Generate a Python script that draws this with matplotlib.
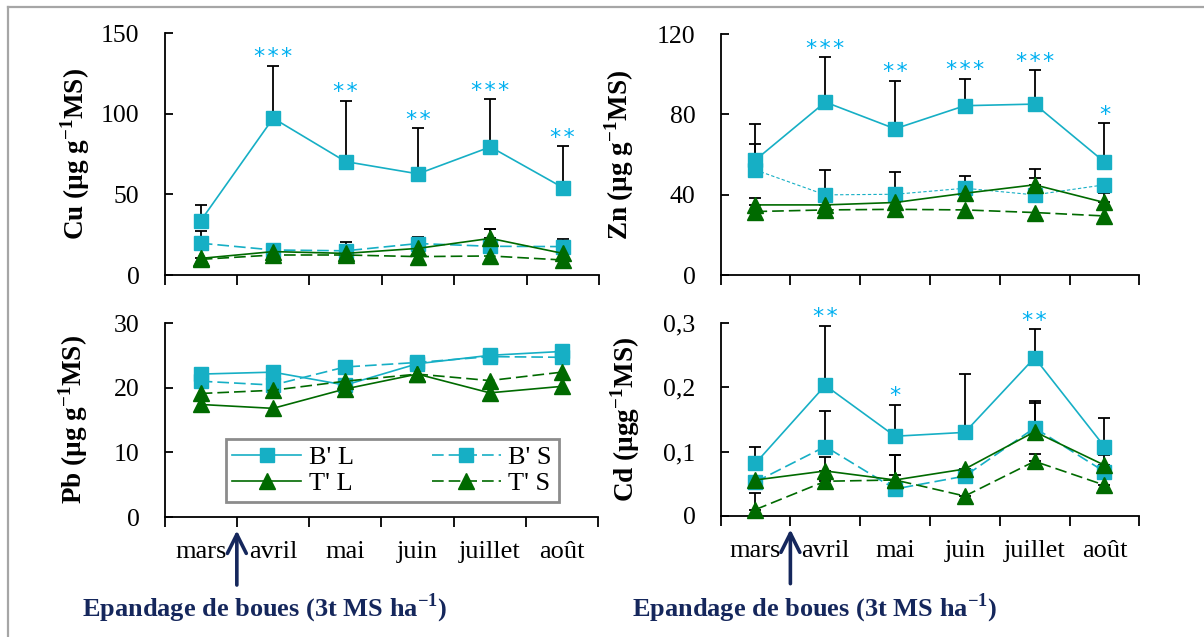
import numpy as np
import matplotlib
matplotlib.use("Agg")
from matplotlib import pyplot as plt
from matplotlib.lines import Line2D

plt.rcParams["font.family"] = ["Liberation Serif", "DejaVu Serif"]
plt.rcParams["mathtext.fontset"] = "custom"
plt.rcParams["mathtext.rm"] = "Liberation Serif"
plt.rcParams["mathtext.bf"] = "Liberation Serif:bold"

nan = np.nan

months = ["mars", "avril", "mai", "juin", "juillet", "août"]
labels = ["B' L", "B' S", "T' L", "T' S"]

# Cu (µg/g MS)
cu_bl = [33.7, 97.2, 70.3, 62.7, 79.4, 54.2]
cu_bl_sd = [9.7, 32.5, 37.7, 28.5, 29.6, 25.8]
cu_bs = [19.7, 15.5, 15.0, 19.5, 17.8, 17.6]
cu_bs_sd = [7.8, nan, 5.5, 4.2, 11.0, 5.0]
cu_tl = [10.3, 14.5, 13.4, 16.5, 22.7, 13.4]
cu_tl_sd = [nan, nan, nan, nan, 6.0, nan]
cu_ts = [9.7, 12.4, 12.4, 11.4, 11.8, 9.3]
cu_ts_sd = [nan] * 6
cu_stars = ["", "***", "**", "**", "***", "**"]

# Zn
zn_bl = [57.3, 86.1, 72.8, 84.3, 85.1, 56.3]
zn_bl_sd = [17.8, 22.3, 23.9, 13.4, 16.8, 19.3]
zn_bs = [52.3, 39.9, 40.2, 43.2, 39.9, 44.9]
zn_bs_sd = [12.8, 12.3, 11.0, 6.2, 12.8, nan]
zn_tl = [34.9, 34.9, 36.1, 40.7, 44.9, 36.1]
zn_tl_sd = [3.3, nan, nan, nan, 3.3, 4.6]
zn_ts = [31.6, 32.4, 32.7, 32.4, 31.1, 29.4]
zn_ts_sd = [nan] * 6
zn_stars = ["", "***", "**", "***", "***", "*"]

# Pb
pb_bl = [22.1, 22.4, 20.4, 23.7, 25.0, 25.6]
pb_bs = [21.0, 20.4, 23.2, 23.9, 24.8, 24.7]
pb_tl = [17.4, 16.8, 19.8, 22.1, 19.2, 20.2]
pb_ts = [19.1, 19.6, 21.0, 22.1, 21.1, 22.4]
pb_sd = [nan] * 6
pb_stars = [""] * 6

# Cd
cd_bl = [0.082, 0.203, 0.124, 0.130, 0.246, 0.108]
cd_bl_sd = [0.026, 0.093, 0.049, 0.091, 0.044, 0.044]
cd_bs = [0.053, 0.108, 0.042, 0.062, 0.137, 0.069]
cd_bs_sd = [nan, 0.055, 0.053, nan, 0.041, nan]
cd_tl = [0.056, 0.070, 0.056, 0.073, 0.131, 0.079]
cd_tl_sd = [nan, 0.022, 0.039, nan, 0.044, 0.016]
cd_ts = [0.010, 0.054, 0.056, 0.031, 0.085, 0.048]
cd_ts_sd = [0.025, nan, 0.008, nan, 0.012, nan]
cd_stars = ["", "**", "*", "", "**", ""]

CYAN = "#16afc5"
GREEN = "#006a00"
STAR = "#00b0f0"
NAVY = "#15275c"


def draw_panel(ax, series, sds, stars, yticks, yticklabels, ylabel, label_x,
               bs_dash=(7, 3), show_months=False):
    x = np.arange(1, 7)
    styles = [
        dict(color=CYAN, ls="-", marker="s", ms=10.5, mfc=CYAN, mec=CYAN),
        dict(color=CYAN, ls=(0, bs_dash), marker="s", ms=10.5, mfc=CYAN, mec=CYAN),
        dict(color=GREEN, ls="-", marker="^", ms=11, mfc=GREEN, mec=GREEN),
        dict(color=GREEN, ls=(0, (7, 3)), marker="^", ms=11, mfc=GREEN, mec=GREEN),
    ]
    order = [1, 0, 3, 2]
    handles = {}
    for i in order:
        lw = 0.8 if (i == 1 and bs_dash != (7, 3)) else 1.2
        ln, = ax.plot(x, series[i], lw=lw, zorder=3 + i * 0.1, clip_on=False,
                      **styles[i])
        handles[i] = ln
        sd = np.array(sds[i], dtype=float)
        if not np.all(np.isnan(sd)):
            ax.errorbar(x, series[i], yerr=[np.zeros(6), sd], fmt="none",
                        ecolor="black", elinewidth=1.3, capsize=4.3, capthick=1.3,
                        zorder=2, clip_on=False)
    # significance stars above B' L error bars
    tops = np.array(series[0]) + np.nan_to_num(np.array(sds[0], dtype=float))
    for xi, top, s in zip(x, tops, stars):
        if s:
            ax.annotate("\u200a".join(s), (xi, top), xytext=(0, 6),
                        textcoords="offset points", ha="center", va="center",
                        color=STAR, fontsize=16, family="DejaVu Sans",
                        annotation_clip=False)

    ax.set_xlim(0.5, 6.5)
    ax.set_ylim(yticks[0], yticks[-1])
    ax.set_xticks(np.arange(0.5, 7, 1))
    ax.set_xticklabels([])
    ax.tick_params(axis="x", which="major", direction="out", length=7, width=1.3)
    if show_months:
        ax.set_xticks(x, minor=True)
        ax.set_xticklabels(months, minor=True, fontsize=19)
        ax.tick_params(axis="x", which="minor", length=0, pad=17)
    ax.set_yticks(yticks)
    ax.set_yticklabels(yticklabels, fontsize=18.5)
    ax.tick_params(axis="y", direction="in", length=6, width=1.3, pad=18)
    ax.spines["top"].set_visible(False)
    ax.spines["right"].set_visible(False)
    ax.spines["left"].set_linewidth(1.3)
    ax.spines["bottom"].set_linewidth(1.3)
    ax.set_ylabel(ylabel, fontsize=19.5, fontweight="bold")
    ax.yaxis.set_label_coords(label_x, 0.5)
    return handles


fig = plt.figure(figsize=(12.04, 6.37), dpi=100)

W, H = 1204, 637


def px_axes(x0, y0, x1, y1):
    return fig.add_axes([x0 / W, 1 - y1 / H, (x1 - x0) / W, (y1 - y0) / H])


ax_cu = px_axes(164.6, 33, 599, 275)
ax_zn = px_axes(720.6, 34, 1139.3, 275)
ax_pb = px_axes(164.6, 323, 598, 517)
ax_cd = px_axes(720.6, 323, 1139.3, 516)

draw_panel(ax_cu, [cu_bl, cu_bs, cu_tl, cu_ts], [cu_bl_sd, cu_bs_sd, cu_tl_sd, cu_ts_sd],
           cu_stars, [0, 50, 100, 150], ["0", "50", "100", "150"],
           r"Cu (µg g$^{\mathbf{-1}}$MS)", -0.168)
draw_panel(ax_zn, [zn_bl, zn_bs, zn_tl, zn_ts], [zn_bl_sd, zn_bs_sd, zn_tl_sd, zn_ts_sd],
           zn_stars, [0, 40, 80, 120], ["0", "40", "80", "120"],
           r"Zn (µg g$^{\mathbf{-1}}$MS)", -0.201, bs_dash=(3, 2))
h = draw_panel(ax_pb, [pb_bl, pb_bs, pb_tl, pb_ts], [pb_sd] * 4,
               pb_stars, [0, 10, 20, 30], ["0", "10", "20", "30"],
               r"Pb (µg g$^{\mathbf{-1}}$MS)", -0.171, show_months=True)
draw_panel(ax_cd, [cd_bl, cd_bs, cd_tl, cd_ts], [cd_bl_sd, cd_bs_sd, cd_tl_sd, cd_ts_sd],
           cd_stars, [0, 0.1, 0.2, 0.3], ["0", "0,1", "0,2", "0,3"],
           r"Cd (µgg$^{\mathbf{-1}}$MS)", -0.187, show_months=True)

leg = ax_pb.legend([h[0], h[2], h[1], h[3]], [labels[0], labels[2], labels[1], labels[3]],
                   ncol=2, loc="lower left", bbox_to_anchor=(0.141, 0.077, 0.768, 0.341),
                   mode="expand", borderaxespad=0, fontsize=19, handlelength=2.6,
                   handletextpad=0.3, columnspacing=1.8, labelspacing=0.1,
                   borderpad=0.25, fancybox=False, framealpha=1)
leg.get_frame().set_edgecolor("#8c8c8c")
leg.get_frame().set_linewidth(2)

# sludge spreading arrows and notes
for ax, tx in [(ax_pb, 264.6), (ax_cd, 814.4)]:
    ax.annotate("", xy=(1.5, -0.055), xycoords=("data", "axes fraction"),
                xytext=(1.5, -0.365), textcoords=("data", "axes fraction"),
                arrowprops=dict(arrowstyle="->", color=NAVY, lw=2.6, mutation_scale=34))
    fig.text(tx / W, 1 - 608 / H, r"Epandage de boues (3t MS ha$^{\mathbf{-1}}$)",
             ha="center", va="center", fontsize=19, fontweight="bold", color=NAVY)

# outer frame
fig.add_artist(Line2D([7.5 / W, 7.5 / W], [1 - 7 / H, 0], color="#a6a6a6", lw=1.6))
fig.add_artist(Line2D([7.5 / W, 1], [1 - 7 / H, 1 - 7 / H], color="#a6a6a6", lw=1.6))

fig.savefig("out.png", dpi=100)
